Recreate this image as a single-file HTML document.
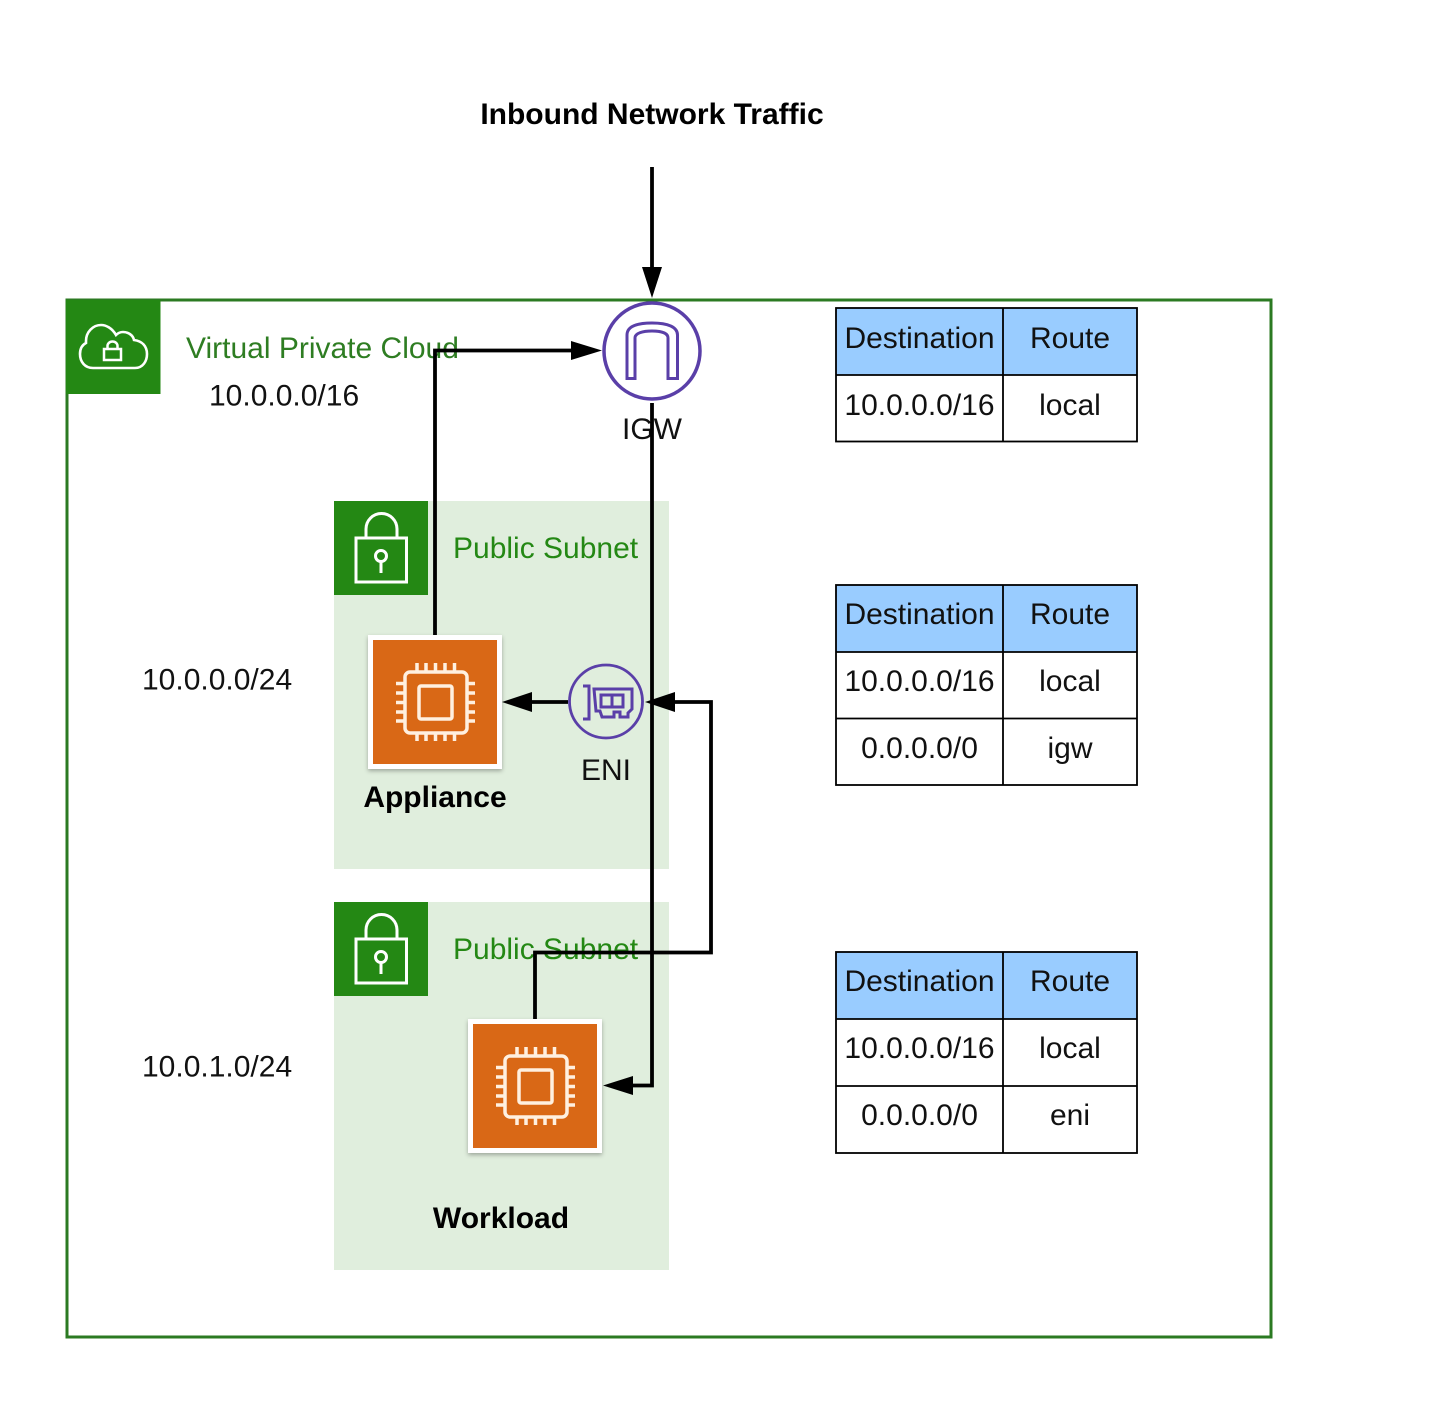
<!DOCTYPE html>
<html>
<head>
<meta charset="utf-8">
<style>
html,body{margin:0;padding:0;background:#fff;width:1456px;height:1404px;overflow:hidden}
svg{display:block}
text{font-family:"Liberation Sans",sans-serif;font-size:30px;fill:#111}
.g{fill:#248814}
.b{font-weight:bold;fill:#000}
.m{text-anchor:middle}
</style>
</head>
<body>
<svg width="1456" height="1404" viewBox="0 0 1456 1404" xmlns="http://www.w3.org/2000/svg">
<defs>
<filter id="s" x="-10%" y="-10%" width="120%" height="120%"><feDropShadow dx="0" dy="2" stdDeviation="2" flood-color="#000" flood-opacity=".3"/></filter>
<g id="lock" fill="none" stroke="#fff" stroke-width="3">
<rect x="356" y="538" width="50.500" height="44"/>
<path d="M366 538V529a15.500 15.500 0 0 1 31 0V538"/>
<circle cx="381" cy="556" r="5.500"/>
<path d="M381 561.500V573"/>
</g>
<g id="chip" fill="none" stroke="#fff0e0">
<rect x="370.500" y="637.500" width="129" height="129" fill="#d96716" stroke="#fff" stroke-width="5" filter="url(#s)"/>
<rect x="405" y="672" width="62" height="61" rx="5" stroke-width="3.500"/>
<rect x="419" y="686" width="33" height="33" rx="2" stroke-width="3.500"/>
<path stroke-width="3.500" d="M417 663v8M426 663v8M435.500 663v8M445 663v8M454.500 663v8M417 733v8M426 733v8M435.500 733v8M445 733v8M454.500 733v8M396 683.500h8M396 693h8M396 702.500h8M396 712h8M396 721h8M467 683.500h8M467 693h8M467 702.500h8M467 712h8M467 721h8"/>
</g>
</defs>

<text x="652" y="124" class="b m">Inbound Network Traffic</text>

<!-- VPC -->
<rect x="67" y="300" width="1204" height="1037" fill="#fff" stroke="#2b7a22" stroke-width="3"/>
<rect x="66" y="300" width="94.500" height="94" fill="#248814"/>
<path d="M93 368H135C143 368 147 361 147 354C147 346 142 341 134 340C133 335 128 332 123 332C120 332 118 333 116 335C112 328 106 325 101 325C93 325 86 332 86 341V343C82 345 80 349 80 354C80 362 85 368 93 368Z" fill="none" stroke="#fff" stroke-width="2.600"/>
<rect x="104" y="349" width="17" height="11" fill="none" stroke="#fff" stroke-width="2.500"/>
<path d="M107.500 349V346a5 4.500 0 0 1 10 0V349" fill="none" stroke="#fff" stroke-width="2.500"/>
<text x="186" y="358" style="fill:#2e7d22">Virtual Private Cloud</text>
<text x="209" y="405.500">10.0.0.0/16</text>

<!-- Subnets -->
<rect x="334" y="501" width="335" height="368" fill="#e0eedd"/>
<rect x="334" y="902" width="335" height="368" fill="#e0eedd"/>
<rect x="334" y="501" width="94" height="94" fill="#248814"/>
<rect x="334" y="902" width="94" height="94" fill="#248814"/>
<use href="#lock"/>
<use href="#lock" y="401"/>
<text x="453" y="558" class="g">Public Subnet</text>
<text x="453" y="959" class="g">Public Subnet</text>
<text x="142" y="689.500">10.0.0.0/24</text>
<text x="142" y="1076.500">10.0.1.0/24</text>

<!-- Chips -->
<use href="#chip"/>
<use href="#chip" x="100" y="384"/>
<text x="435" y="807" class="b m">Appliance</text>
<text x="501" y="1228" class="b m">Workload</text>

<!-- IGW -->
<circle cx="652" cy="351" r="48" fill="#fff" stroke="#5a3fa8" stroke-width="3.500"/>
<path d="M627 378.500V335C627 327 636 323 652 323C668 323 677.500 327 677.500 335V378.500H668V338C668 333 661 331 652 331C643 331 635 333 635 338V378.500Z" fill="none" stroke="#5a3fa8" stroke-width="3"/>
<text x="652" y="439" class="m">IGW</text>

<!-- ENI -->
<circle cx="606" cy="701.500" r="36.500" fill="#e0eedd" stroke="#5a3fa8" stroke-width="2.800"/>
<g fill="none" stroke="#5a3fa8" stroke-width="3">
<path d="M583 686H589V719H583"/>
<path d="M594 689H632V709L628 713V717H620V712H614V717H602L600 711H596Z"/>
<rect x="601" y="695" width="22" height="12"/>
<path d="M612 695V707"/>
</g>
<text x="606" y="780" class="m">ENI</text>

<!-- Connectors -->
<g fill="none" stroke="#000" stroke-width="3.800">
<path d="M652 167V270"/>
<path d="M435 635V350.500H573"/>
<path d="M652 403V1085.500H632"/>
<path d="M535 1019V952.500H711V702H674"/>
<path d="M568 702H530"/>
</g>
<g fill="#000">
<path d="M652 298L642 267H662Z"/>
<path d="M602 350.500L571 341V360Z"/>
<path d="M603 1085.500L633 1076V1095Z"/>
<path d="M645 702L675 692V712Z"/>
<path d="M502 702L532 692V712Z"/>
</g>

<!-- Tables -->
<g>
<rect x="836" y="308" width="301" height="67" fill="#99ccff"/>
<rect x="836" y="585" width="301" height="67" fill="#99ccff"/>
<rect x="836" y="952" width="301" height="67" fill="#99ccff"/>
</g>
<g fill="none" stroke="#000" stroke-width="1.800">
<rect x="836" y="308" width="301" height="133.500"/>
<path d="M836 375H1137M1003 308V441.500"/>
<rect x="836" y="585" width="301" height="200"/>
<path d="M836 652H1137M836 718.500H1137M1003 585V785"/>
<rect x="836" y="952" width="301" height="201"/>
<path d="M836 1019H1137M836 1086H1137M1003 952V1153"/>
</g>
<g>
<text x="919.500" y="348" class="m">Destination</text><text x="1070" y="348" class="m">Route</text>
<text x="919.500" y="415" class="m">10.0.0.0/16</text><text x="1070" y="415" class="m">local</text>

<text x="919.500" y="624" class="m">Destination</text><text x="1070" y="624" class="m">Route</text>
<text x="919.500" y="691" class="m">10.0.0.0/16</text><text x="1070" y="691" class="m">local</text>
<text x="919.500" y="758" class="m">0.0.0.0/0</text><text x="1070" y="758" class="m">igw</text>

<text x="919.500" y="991" class="m">Destination</text><text x="1070" y="991" class="m">Route</text>
<text x="919.500" y="1058" class="m">10.0.0.0/16</text><text x="1070" y="1058" class="m">local</text>
<text x="919.500" y="1125" class="m">0.0.0.0/0</text><text x="1070" y="1125" class="m">eni</text>
</g>
</svg>
</body>
</html>
